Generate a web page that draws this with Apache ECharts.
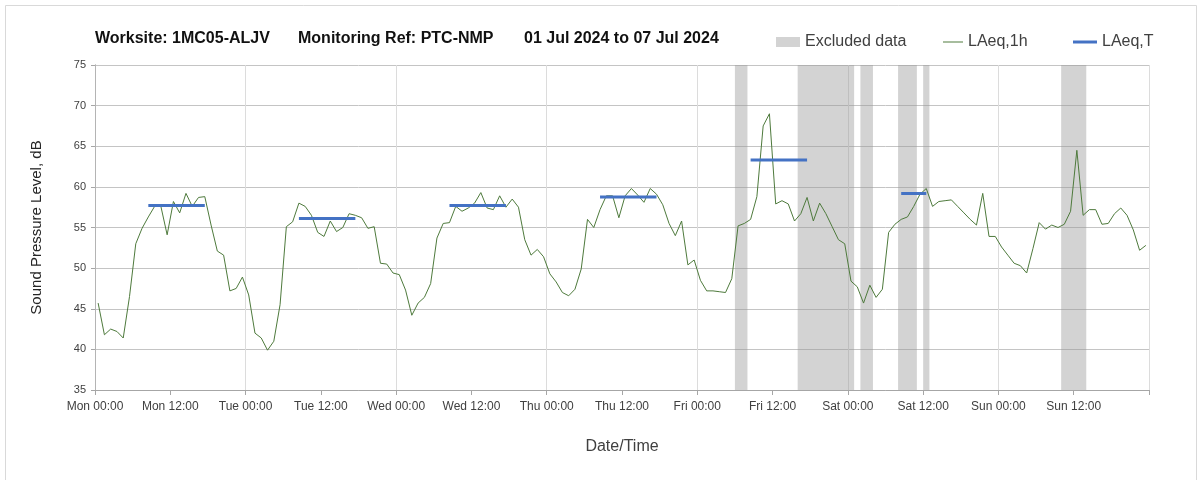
<!DOCTYPE html>
<html>
<head>
<meta charset="utf-8">
<script src="https://cdn.jsdelivr.net/npm/echarts@6/dist/echarts.min.js"></script>
<style>
  html, body { margin: 0; padding: 0; background: #ffffff; }
  #chart { width: 1203px; height: 480px; }
</style>
</head>
<body>
<div id="chart"></div>
<script>
// Hourly LAeq,1h values (one per hour, Mon 00:00 .. Sun 23:00)
const laeq1h = [
  45.7, 41.8, 42.5, 42.2, 41.4, 46.5, 53.0, 54.9, 56.3, 57.6,
  57.6, 54.1, 58.2, 56.8, 59.2, 57.6, 58.7, 58.8, 55.3, 52.1,
  51.6, 47.2, 47.5, 48.9, 46.7, 42.0, 41.4, 39.9, 41.0, 45.5,
  55.1, 55.7, 58.0, 57.6, 56.5, 54.4, 53.9, 55.8, 54.5, 55.0,
  56.7, 56.5, 56.2, 54.9, 55.1, 50.6, 50.5, 49.4, 49.2, 47.3,
  44.2, 45.7, 46.4, 48.1, 53.7, 55.5, 55.6, 57.6, 57.0, 57.4,
  58.0, 59.3, 57.4, 57.2, 58.9, 57.5, 58.5, 57.5, 53.5, 51.6,
  52.3, 51.4, 49.3, 48.3, 47.0, 46.6, 47.4, 49.9, 56.0, 55.0,
  57.2, 58.9, 58.9, 56.2, 58.9, 59.8, 59.0, 58.1, 59.8, 59.1,
  57.8, 55.5, 54.0, 55.8, 50.4, 51.0, 48.5, 47.2, 47.2, 47.1,
  47.0, 48.7, 55.2, 55.5, 56.0, 58.8, 67.5, 69.0, 57.9, 58.3,
  57.9, 55.8, 56.7, 58.7, 55.8, 58.0, 56.7, 55.1, 53.5, 53.0,
  48.4, 47.7, 45.7, 47.9, 46.4, 47.4, 54.4, 55.4, 56.0, 56.3,
  57.6, 59.1, 59.8, 57.6, 58.2, 58.3, 58.4, 57.6, 56.8, 56.0,
  55.3, 59.2, 53.9, 53.9, 52.6, 51.6, 50.6, 50.3, 49.4, 52.4,
  55.6, 54.8, 55.3, 55.0, 55.4, 57.0, 64.5, 56.5, 57.2, 57.2,
  55.4, 55.5, 56.7, 57.4, 56.5, 54.7, 52.2, 52.8
];

// LAeq,T periods (hours from Mon 00:00) and levels
const periodStart = [8.5, 32.5, 56.5, 80.5, 104.5, 128.5];
const periodEnd   = [17.5, 41.5, 65.5, 89.5, 113.5, 132.5];
const periodLevel = [57.7, 56.1, 57.7, 58.75, 63.3, 59.2];

// Excluded data windows (hours from Mon 00:00)
const excludedStart = [102, 112, 122, 128, 132, 154];
const excludedEnd   = [104, 121, 124, 131, 133, 158];

// X tick labels every 12 hours
const tickLabels = [
  'Mon 00:00', 'Mon 12:00', 'Tue 00:00', 'Tue 12:00', 'Wed 00:00', 'Wed 12:00',
  'Thu 00:00', 'Thu 12:00', 'Fri 00:00', 'Fri 12:00', 'Sat 00:00', 'Sat 12:00',
  'Sun 00:00', 'Sun 12:00', ''
];

const titleParts = ['Worksite: 1MC05-ALJV', 'Monitoring Ref: PTC-NMP', '01 Jul 2024 to 07 Jul 2024'];

const FONT = 'Liberation Sans, Arial, sans-serif';

const lineData = laeq1h.map((v, i) => [i + 0.5, v]);
const periodData = [];
periodStart.forEach((s, i) => {
  periodData.push([s, periodLevel[i]]);
  periodData.push([periodEnd[i], periodLevel[i]]);
  periodData.push([periodEnd[i] + 0.01, null]);
});
const excludedAreas = excludedStart.map((s, i) => [{ xAxis: s }, { xAxis: excludedEnd[i] }]);

const chart = echarts.init(document.getElementById('chart'), null, { renderer: 'canvas' });
chart.setOption({
  animation: false,
  backgroundColor: '#ffffff',
  textStyle: { fontFamily: FONT },
  title: [
    { text: titleParts[0], left: 95, top: 31 },
    { text: titleParts[1], left: 298, top: 31 },
    { text: titleParts[2], left: 524, top: 31 }
  ].map(t => Object.assign(t, {
    padding: 0,
    textStyle: { fontFamily: FONT, fontSize: 16, fontWeight: 'bold', color: '#111111' }
  })),
  legend: [
    { data: ['Excluded data'], left: 776, itemWidth: 24, itemHeight: 10 },
    { data: ['LAeq,1h'], left: 943, itemWidth: 20, itemHeight: 1 },
    { data: ['LAeq,T'], left: 1073, itemWidth: 24, itemHeight: 3 }
  ].map(l => Object.assign(l, {
    top: 34, padding: 0, icon: 'rect', selectedMode: false,
    textStyle: { fontFamily: FONT, fontSize: 16, color: '#404040', padding: [0, 0, 0, 0] }
  })),
  graphic: [{
    type: 'rect', silent: true, z: -10,
    shape: { x: 5.5, y: 5.5, width: 1191, height: 490 },
    style: { fill: 'none', stroke: '#d9d9d9', lineWidth: 1 }
  }],
  grid: { left: 95, right: 54, top: 65, bottom: 90, containLabel: false },
  xAxis: [
    {
      type: 'value', min: 0, max: 168, interval: 12, position: 'bottom',
      axisLine: { show: true, lineStyle: { color: '#a6a6a6', width: 1 } },
      axisTick: { show: true, length: 5, lineStyle: { color: '#a6a6a6' } },
      axisLabel: {
        color: '#404040', fontSize: 12, margin: 11,
        formatter: v => tickLabels[Math.round(v / 12)] || ''
      },
      splitLine: { show: false },
      name: 'Date/Time', nameLocation: 'middle', nameGap: 49,
      nameTextStyle: { fontSize: 16, color: '#404040' }
    },
    {
      type: 'value', min: 0, max: 168, interval: 24, position: 'top',
      axisLine: { show: false }, axisTick: { show: false }, axisLabel: { show: false },
      splitLine: { show: true, lineStyle: { color: '#dcdcdc', width: 1 } }
    }
  ],
  yAxis: [
    {
      type: 'value', min: 35, max: 75, interval: 5,
      axisLine: { show: true, lineStyle: { color: '#a6a6a6', width: 1 } },
      axisTick: { show: true, length: 4, lineStyle: { color: '#a6a6a6' } },
      axisLabel: { color: '#404040', fontSize: 11, margin: 9 },
      splitLine: { show: true, lineStyle: { color: '#c4c4c4', width: 1 } },
      name: 'Sound Pressure Level, dB', nameLocation: 'middle', nameGap: 51, nameRotate: 90,
      nameTextStyle: { fontSize: 15, color: '#262626' }
    },
    {
      type: 'value', min: 35, max: 75, interval: 5, position: 'right',
      axisLine: { show: true, lineStyle: { color: '#b4b4b4', width: 1 } },
      axisTick: { show: false }, axisLabel: { show: false }, splitLine: { show: false }
    }
  ],
  series: [
    {
      name: 'Excluded data', type: 'line', data: [], color: '#d3d3d3',
      xAxisIndex: 0, yAxisIndex: 0,
      markArea: {
        silent: true,
        itemStyle: { color: 'rgba(150,150,150,0.42)' },
        data: excludedAreas
      }
    },
    {
      name: 'LAeq,1h', type: 'line', data: lineData, color: '#4e7a3c',
      xAxisIndex: 0, yAxisIndex: 0,
      showSymbol: false, symbol: 'none', z: 3,
      lineStyle: { width: 1, color: '#4e7a3c' }
    },
    {
      name: 'LAeq,T', type: 'line', data: periodData, color: '#4472c4',
      xAxisIndex: 0, yAxisIndex: 0,
      showSymbol: false, symbol: 'none', connectNulls: false, z: 4,
      lineStyle: { width: 3, color: '#4472c4', cap: 'butt' }
    }
  ]
});
</script>
</body>
</html>
